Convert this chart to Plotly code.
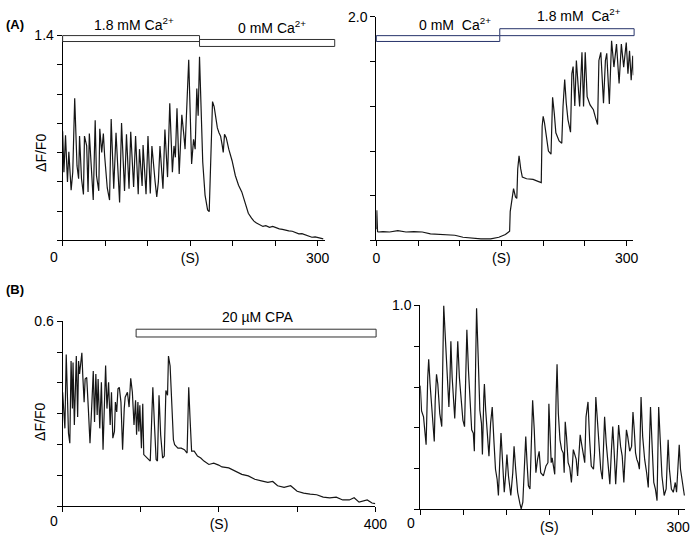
import plotly.graph_objects as go

# ---------------- data ----------------
# Panel A left: 1.8 mM Ca2+ then 0 mM Ca2+
a1_t = [0, 1.5, 3.4, 5.7, 7.3, 10.0, 11.9, 14.2, 16.9, 18.8, 19.9, 22.2, 24.5, 25.7, 28.3, 29.9, 31.4,
        36.0, 38.3, 39.8, 42.5, 43.7, 46.0, 47.9, 49.4, 52.5, 55.2, 57.1, 60.1, 62.8, 67.0, 69.3, 72.8,
        75.1, 78.1, 80.1, 83.5, 85.8, 88.9, 90.4, 93.5, 94.6, 98.1, 100.4, 103.1, 105.0, 108.8, 110.7,
        112.6, 114.5, 118.0, 120.3, 123.4, 126.0, 129.1, 131.0, 132.6, 134.5, 137.1, 140.2, 142.5, 144.0,
        148.3, 151.7, 154.0, 155.9, 157.8, 159.4, 161.0, 162.6, 164.8, 167.5, 170.5, 172.4, 174.4, 176.3,
        178.2, 180.1, 182.0, 183.9, 185.8, 187.8, 188.9, 190.4, 192.4, 195.4, 199.3, 203.1, 206.9, 210.7,
        214.6, 218.4, 222.2, 225.0, 228.0, 231.5, 235.6, 239.0, 243.3, 247.1, 251.0, 254.8, 258.5, 262.5,
        266.0, 270.1, 274.0, 277.8, 281.5, 285.5, 289.0, 293.1, 297.0, 300.8, 303.5, 306.5]
a1_v = [0.747, 0.466, 0.718, 0.399, 0.606, 0.343, 0.466, 0.971, 0.511, 0.422, 0.713, 0.422, 0.314, 0.713,
        0.646, 0.332, 0.731, 0.276, 0.821, 0.444, 0.339, 0.763, 0.601, 0.731, 0.579, 0.359, 0.276, 0.830,
        0.354, 0.736, 0.260, 0.803, 0.339, 0.725, 0.354, 0.743, 0.366, 0.713, 0.316, 0.624, 0.372, 0.653,
        0.316, 0.713, 0.321, 0.646, 0.400, 0.298, 0.400, 0.646, 0.354, 0.758, 0.433, 0.938, 0.466, 0.646,
        0.568, 0.904, 0.455, 0.859, 0.725, 0.624, 1.234, 0.523, 0.691, 0.624, 1.039, 0.853, 1.256, 0.983,
        0.534, 0.310, 0.209, 0.197, 0.646, 0.949, 0.915, 0.837, 0.769, 0.736, 0.713, 0.646, 0.601, 0.725,
        0.702, 0.624, 0.545, 0.444, 0.377, 0.332, 0.254, 0.186, 0.153, 0.132, 0.119, 0.108, 0.096, 0.101,
        0.090, 0.096, 0.085, 0.079, 0.076, 0.069, 0.066, 0.063, 0.052, 0.045, 0.047, 0.040, 0.030, 0.022,
        0.024, 0.018, 0.014, 0.011]

# Panel A right: 0 mM Ca2+ then 1.8 mM Ca2+
a2_t = [0, 0.6, 1.5, 2.4, 8, 16.0, 25.8, 35.6, 45, 55.1, 64.9, 74.6, 84, 94.2, 103.9, 113.7, 125.4, 137.1,
        146.9, 154.7, 159.8, 160.5, 162.5, 164.5, 166.8, 168.4, 169.5, 171.1, 173.1, 175.0, 180.1, 187.9,
        193.8, 197.7, 198.8, 200.0, 201.6, 203.5, 206.3, 209.4, 210.5, 211.3, 213.3, 215.2, 219.1, 222.3,
        223.8, 225.8, 227.7, 229.7, 232.8, 234.4, 235.9, 237.9, 239.8, 241.8, 243.7, 246.5, 248.4, 250.4,
        252.7, 256.2, 260.2, 262.9, 265.2, 266.8, 269.1, 272.3, 274.6, 276.2, 279.3, 282.0, 284.8, 287.9,
        291.0, 293.7, 296.5, 299.6, 301.6, 303.5, 305.5, 307.4, 308.2]
a2_v = [0.10, 0.27, 0.08, 0.076, 0.080, 0.076, 0.088, 0.076, 0.080, 0.076, 0.059, 0.053, 0.050, 0.047,
        0.029, 0.023, 0.015, 0.015, 0.029, 0.053, 0.082, 0.258, 0.376, 0.464, 0.390, 0.376, 0.640, 0.758,
        0.640, 0.567, 0.552, 0.546, 0.529, 0.517, 1.022, 1.110, 1.051, 0.934, 0.800, 0.772, 1.169, 1.280,
        1.139, 0.963, 0.890, 0.869, 1.198, 1.439, 1.227, 1.081, 0.969, 1.492, 1.556, 1.204, 1.610, 1.433,
        1.198, 1.683, 1.198, 1.683, 1.286, 1.213, 1.169, 1.095, 1.037, 1.610, 1.683, 1.227, 1.610, 1.674,
        1.222, 1.786, 1.551, 1.756, 1.404, 1.756, 1.551, 1.771, 1.492, 1.697, 1.433, 1.653, 1.477]

# Panel B left: 20 uM CPA
b1_t = [0, 1.7, 2.9, 4.6, 5.8, 7.5, 9.2, 10.8, 12.5, 13.3, 15.0, 16.3, 17.5, 19.2, 20.4, 21.7, 23.3, 24.6,
        25.8, 27.5, 28.8, 30.8, 32.9, 35.0, 37.1, 39.2, 40.8, 42.5, 44.2, 45.4, 47.5, 49.6, 51.7, 53.3,
        55.0, 56.7, 58.8, 60.8, 62.5, 64.2, 66.3, 67.5, 69.2, 70.8, 72.5, 74.6, 76.7, 78.8, 80.0, 82.9,
        85.0, 87.1, 89.2, 91.3, 93.3, 94.6, 96.3, 97.5, 98.8, 100.8, 102.5, 103.8, 105.8, 110.0, 112.1,
        114.2, 115.4, 117.5, 119.6, 121.3, 123.3, 125.4, 127.9, 130.0, 132.1, 134.2, 135.4, 137.5, 139.6,
        141.7, 143.3, 147.5, 151.7, 155.8, 159.2, 161.3, 163.0, 165.0, 168.3, 172.5, 176.7, 180.8, 187.1,
        193.3, 199.6, 203.8, 212.5, 220.8, 229.2, 237.5, 245.8, 254.2, 262.5, 268.8, 275.0, 283.3, 291.7,
        300.0, 308.3, 316.7, 325.0, 333.3, 341.7, 350.0, 358.3, 366.7, 372.9, 379.2, 389.6, 395.8, 400.0]
b1_v = [0.370, 0.301, 0.253, 0.492, 0.370, 0.237, 0.205, 0.471, 0.317, 0.466, 0.264, 0.391, 0.487, 0.290,
        0.471, 0.429, 0.471, 0.498, 0.423, 0.338, 0.413, 0.418, 0.317, 0.205, 0.317, 0.439, 0.274, 0.429,
        0.296, 0.413, 0.253, 0.402, 0.184, 0.317, 0.457, 0.317, 0.402, 0.264, 0.370, 0.221, 0.243, 0.338,
        0.306, 0.381, 0.386, 0.338, 0.184, 0.317, 0.354, 0.370, 0.322, 0.415, 0.370, 0.264, 0.344, 0.232,
        0.338, 0.243, 0.328, 0.189, 0.333, 0.168, 0.163, 0.152, 0.147, 0.301, 0.386, 0.264, 0.152, 0.147,
        0.360, 0.232, 0.157, 0.163, 0.376, 0.360, 0.487, 0.455, 0.338, 0.216, 0.200, 0.189, 0.189, 0.184,
        0.173, 0.386, 0.285, 0.179, 0.179, 0.163, 0.157, 0.147, 0.136, 0.140, 0.134, 0.128, 0.125, 0.115,
        0.104, 0.099, 0.088, 0.083, 0.078, 0.081, 0.067, 0.062, 0.067, 0.049, 0.043, 0.040, 0.038, 0.030,
        0.028, 0.030, 0.021, 0.021, 0.028, 0.014, 0.021, 0.011, 0.009]

# Panel B right
b2_t = [0, 1.5, 3.8, 4.9, 6.8, 8.7, 9.8, 11.4, 13.3, 15.1, 16.3, 17.4, 18.9, 20.4, 22.7, 25.0, 27.3, 28.8,
        30.7, 32.2, 33.3, 34.5, 35.6, 37.1, 39.0, 40.1, 42.0, 43.6, 45.5, 47.7, 49.6, 51.5, 53.0, 54.2,
        56.1, 57.9, 59.8, 61.7, 62.9, 64.4, 65.5, 67.4, 69.3, 71.2, 72.3, 73.9, 74.6, 76.1, 78.0, 79.9,
        81.8, 83.7, 85.6, 87.5, 89.4, 90.9, 92.4, 93.9, 95.8, 97.7, 99.2, 100.8, 102.6, 105.3, 107.6,
        109.1, 111.0, 113.3, 115.9, 117.4, 119.3, 121.2, 122.7, 124.2, 125.8, 127.6, 129.2, 130.7, 132.6,
        134.5, 136.4, 138.3, 140.1, 143.2, 146.2, 148.5, 149.6, 150.4, 151.1, 152.3, 153.4, 154.9, 156.4,
        158.0, 159.1, 160.6, 162.5, 164.4, 166.3, 167.4, 168.6, 170.1, 172.0, 173.9, 175.8, 178.0, 179.9,
        181.4, 183.0, 184.5, 186.0, 187.5, 189.4, 191.3, 192.8, 195.1, 197.0, 198.9, 201.5, 202.7, 204.2,
        206.1, 208.0, 209.9, 211.8, 212.9, 214.4, 216.3, 218.6, 220.5, 222.4, 223.9, 225.4, 227.3, 229.2,
        230.7, 233.0, 234.9, 236.8, 238.3, 239.8, 241.3, 243.6, 245.8, 247.4, 248.9, 250.4, 251.9, 253.4,
        254.9, 256.8, 258.7, 261.0, 263.3, 265.2, 266.7, 267.8, 269.7, 271.6, 273.5, 275.4, 277.3, 279.2,
        281.1, 283.7, 286.0, 288.3, 289.8, 292.1, 294.3, 296.6, 298.1, 299.6, 301.2, 302.7, 304.9, 307.2]
b2_v = [0.607, 0.483, 0.454, 0.390, 0.317, 0.647, 0.736, 0.615, 0.502, 0.422, 0.333, 0.535, 0.663, 0.615,
        0.470, 0.406, 1.000, 0.873, 0.712, 0.567, 0.502, 0.631, 0.824, 0.647, 0.518, 0.446, 0.631, 0.824,
        0.647, 0.534, 0.438, 0.406, 0.712, 0.881, 0.680, 0.535, 0.390, 0.374, 0.285, 0.712, 0.986, 0.744,
        0.486, 0.422, 0.269, 0.551, 0.615, 0.486, 0.390, 0.261, 0.422, 0.502, 0.341, 0.197, 0.148, 0.068,
        0.229, 0.374, 0.229, 0.084, 0.164, 0.269, 0.164, 0.068, 0.180, 0.309, 0.197, 0.084, 0.028, 0.003,
        0.035, 0.229, 0.357, 0.229, 0.116, 0.100, 0.357, 0.535, 0.390, 0.180, 0.245, 0.285, 0.180, 0.164,
        0.213, 0.229, 0.518, 0.406, 0.277, 0.229, 0.253, 0.197, 0.172, 0.551, 0.712, 0.470, 0.341, 0.293,
        0.277, 0.180, 0.430, 0.357, 0.229, 0.205, 0.132, 0.293, 0.261, 0.245, 0.164, 0.277, 0.366, 0.325,
        0.277, 0.229, 0.454, 0.527, 0.341, 0.213, 0.197, 0.277, 0.551, 0.422, 0.309, 0.197, 0.148, 0.309,
        0.454, 0.325, 0.197, 0.124, 0.293, 0.406, 0.293, 0.124, 0.277, 0.414, 0.309, 0.261, 0.132, 0.309,
        0.390, 0.357, 0.285, 0.309, 0.478, 0.390, 0.277, 0.245, 0.229, 0.197, 0.551, 0.357, 0.245, 0.180,
        0.108, 0.341, 0.502, 0.309, 0.132, 0.100, 0.043, 0.502, 0.325, 0.164, 0.068, 0.100, 0.341, 0.197,
        0.100, 0.084, 0.132, 0.084, 0.197, 0.317, 0.197, 0.132, 0.068]

# stimulus bars (start, end in s) and labels
a1_bars = [(0, 161), (161, 320)]
a1_bar_labels = ["1.8 mM Ca<sup>2+</sup>", "0 mM Ca<sup>2+</sup>"]
a2_bars = [(0, 148), (148, 309)]
a2_bar_labels = ["0 mM  Ca<sup>2+</sup>", "1.8 mM  Ca<sup>2+</sup>"]
b1_bars = [(94, 401)]
b1_bar_labels = ["20 µM CPA"]

# axis ticks
a1_xticks = [0, 50, 100, 150, 200, 250, 300]
a1_xtext = ["", "", "", "(S)", "", "", "300"]
a1_yticks = [0, 0.2, 0.4, 0.6, 0.8, 1.0, 1.2, 1.4]
a1_ytext = ["", "", "", "", "", "", "", "1.4"]
a2_xticks = [0, 50, 100, 150, 200, 250, 300]
a2_xtext = ["0", "", "", "(S)", "", "", "300"]
a2_yticks = [0, 0.4, 0.8, 1.2, 1.6, 2.0]
a2_ytext = ["", "", "", "", "", "2.0"]
b1_xticks = [0, 100, 200, 300, 400]
b1_xtext = ["", "", "(S)", "", "400"]
b1_yticks = [0, 0.1, 0.2, 0.3, 0.4, 0.5, 0.6]
b1_ytext = ["", "", "", "", "", "", "0.6"]
b2_xticks = [0, 50, 100, 150, 200, 250, 300]
b2_xtext = ["", "", "", "(S)", "", "", "300"]
b2_yticks = [0, 0.2, 0.4, 0.6, 0.8, 1.0]
b2_ytext = ["", "", "", "", "", "1.0"]

# ---------------- figure ----------------
W, H = 700, 536
FONT = "Arial, Liberation Sans, sans-serif"
FS = 14


def px(x):
    return x / W


def py(y):
    return 1 - y / H


fig = go.Figure()
line_style = dict(color="#161616", width=1.2)
for t, v, xa, ya in [(a1_t, a1_v, "x", "y"), (a2_t, a2_v, "x2", "y2"),
                     (b1_t, b1_v, "x3", "y3"), (b2_t, b2_v, "x4", "y4")]:
    fig.add_trace(go.Scatter(x=t, y=v, mode="lines", line=line_style, xaxis=xa, yaxis=ya,
                             showlegend=False, hoverinfo="skip"))

common = dict(showline=True, linecolor="black", linewidth=1, ticks="outside", ticklen=5,
              tickwidth=1, tickcolor="black", showgrid=False, zeroline=False,
              tickfont=dict(family=FONT, size=FS, color="black"), tickmode="array")

panels = [
    ("", (60, 328), (236, 28), (0, 308), (0, 1.4), a1_xticks, a1_xtext, a1_yticks, a1_ytext),
    ("2", (381, 644), (236, 9), (0, 308), (0, 2.0), a2_xticks, a2_xtext, a2_yticks, a2_ytext),
    ("3", (60, 380), (506, 318), (0, 400), (0, 0.6), b1_xticks, b1_xtext, b1_yticks, b1_ytext),
    ("4", (426, 697), (509, 302), (0, 308), (0, 1.0), b2_xticks, b2_xtext, b2_yticks, b2_ytext),
]
lay = {}
for n, xd, yd, xr, yr, xt, xtt, yt, ytt in panels:
    lay["xaxis" + n] = dict(common, domain=[px(xd[0]), px(xd[1])], range=list(xr), anchor="y" + n,
                            tickvals=xt, ticktext=xtt)
    lay["yaxis" + n] = dict(common, domain=[py(yd[0]), py(yd[1])], range=list(yr), anchor="x" + n,
                            tickvals=yt, ticktext=ytt)

fig.update_layout(width=W, height=H, margin=dict(l=0, r=0, t=0, b=0),
                  paper_bgcolor="white", plot_bgcolor="white", **lay)

shapes = []
annotations = []


def add_bars(bars, n, xmax, levels, color):
    for (t0, t1), (y0, y1) in zip(bars, levels):
        shapes.append(dict(type="rect", xref=f"x{n} domain", yref=f"y{n} domain",
                           x0=t0 / xmax, x1=t1 / xmax, y0=y0, y1=y1,
                           fillcolor="white", line=dict(color=color, width=1), layer="above"))


add_bars(a1_bars, "", 308, [(0.971, 1.0), (0.947, 0.981)], "#303030")
add_bars(a2_bars, "2", 308, [(0.890, 0.916), (0.916, 0.947)], "#26336a")
add_bars(b1_bars, "3", 400, [(0.915, 0.957)], "#303030")


def note(text, x, y, size=FS, **kw):
    d = dict(text=text, x=px(x), y=py(y), xref="paper", yref="paper", showarrow=False,
             font=dict(family=FONT, size=size, color="black"), xanchor="center", yanchor="middle")
    d.update(kw)
    annotations.append(d)


label_pos = [(a1_bar_labels[0], 133, 16), (a1_bar_labels[1], 274, 19),
             (a2_bar_labels[0], 462, 16), (a2_bar_labels[1], 588, 7),
             (b1_bar_labels[0], 259, 314)]
for txt, x, y in label_pos:
    note(txt, x, y)

# zero labels shifted left of origin
for n, y in [("", 253), ("3", 521), ("4", 523)]:
    annotations.append(dict(text="0", x=0, xref="x" + n, y=py(y), yref="paper", xshift=-9,
                            showarrow=False, font=dict(family=FONT, size=FS, color="black"),
                            xanchor="center", yanchor="middle"))

for x, y in [(38, 147), (37, 420)]:
    note("ΔF/F0", x, y, textangle=-90)
for txt, x, y in [("<b>(A)</b>", 11, 17), ("<b>(B)</b>", 11, 286)]:
    note(txt, x, y, size=13)

fig.update_layout(shapes=shapes, annotations=annotations)
fig.write_html("out.html")
